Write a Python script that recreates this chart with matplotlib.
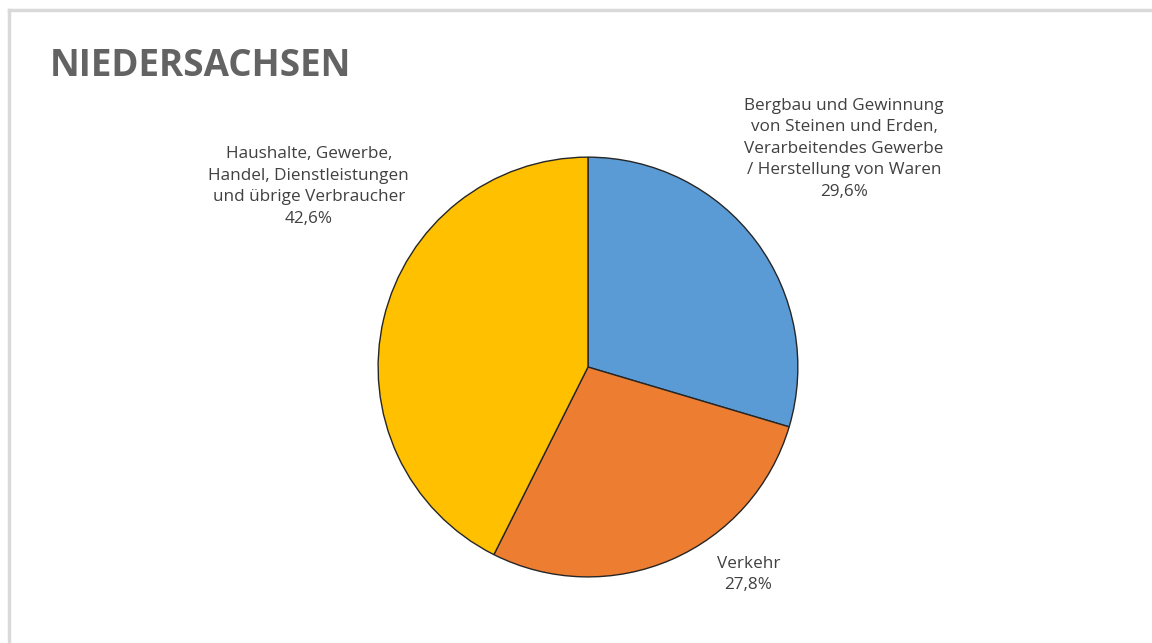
import matplotlib.pyplot as plt
from matplotlib.lines import Line2D

plt.rcParams['font.family'] = ['Open Sans', 'DejaVu Sans']

labels = ['Bergbau und Gewinnung\nvon Steinen und Erden,\nVerarbeitendes Gewerbe\n/ Herstellung von Waren',
          'Verkehr',
          'Haushalte, Gewerbe,\nHandel, Dienstleistungen\nund übrige Verbraucher']
shares = [29.6, 27.8, 42.6]  # percent
colors = ['#5B9BD5', '#ED7D31', '#FFC000']
# label centres in pie units (radius = 1)
label_pos = [(1.22, 1.04), (0.764, -0.99), (-1.33, 0.86)]

fig = plt.figure(figsize=(11.52, 6.43), dpi=100)
fig.patch.set_facecolor('white')

# light frame along top and left edge
fig.add_artist(Line2D([0.008, 0.008], [0, 0.985], color='#d9d9d9', lw=2.5, transform=fig.transFigure))
fig.add_artist(Line2D([0.008, 1.0], [0.985, 0.985], color='#d9d9d9', lw=2.5, transform=fig.transFigure))

fig.text(0.043, 0.898, 'NIEDERSACHSEN', fontsize=26.5, fontweight='bold', color='#636363',
         va='center', ha='left')

ax = fig.add_axes([0.3264, 0.0995, 0.368, 0.6594])
ax.pie(shares, colors=colors, startangle=90, counterclock=False,
       wedgeprops={'edgecolor': '#262626', 'linewidth': 1.0})
ax.set_xlim(-1.01, 1.01)
ax.set_ylim(-1.01, 1.01)

for lab, val, (x, y) in zip(labels, shares, label_pos):
    txt = lab + '\n' + f'{val:.1f}'.replace('.', ',') + '%'
    ax.text(x, y, txt, ha='center', va='center', multialignment='center',
            fontsize=12.3, color='#404040', linespacing=1.45)

fig.savefig('out.png', dpi=100, facecolor='white')
